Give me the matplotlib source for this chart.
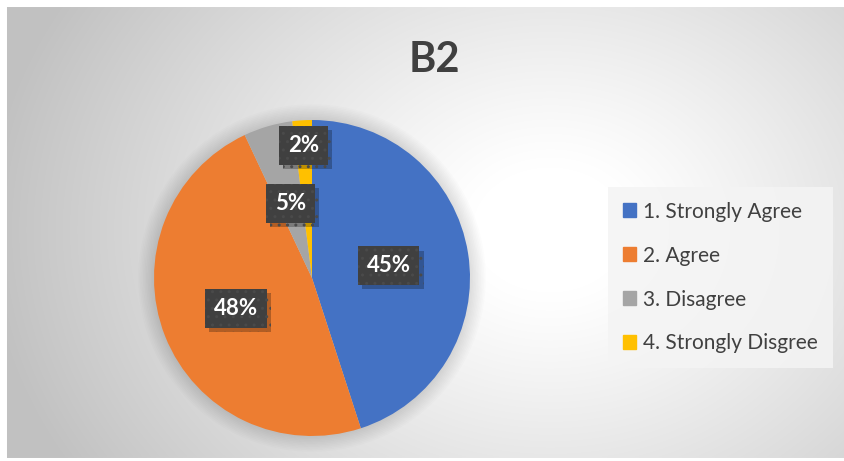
import numpy as np
import matplotlib
matplotlib.use("Agg")
import matplotlib.pyplot as plt
import matplotlib.patheffects as pe
from matplotlib.patches import Circle

labels = ["1. Strongly Agree", "2. Agree", "3. Disagree", "4. Strongly Disgree"]
values = [45, 48, 5, 2]
pct_text = ["45%", "48%", "5%", "2%"]
colors = ["#4472c4", "#ed7d31", "#a5a5a5", "#ffc000"]
label_r = [0.49, 0.52, 0.49, 0.84]

plt.rcParams["font.family"] = ["Lato", "DejaVu Sans"]

W, H = 844, 461
fig = plt.figure(figsize=(W / 100, H / 100), dpi=100)

# background: white page, grey radial gradient panel
bg = fig.add_axes([0, 0, 1, 1])
bg.set_xlim(0, W)
bg.set_ylim(H, 0)
bg.axis("off")
yy, xx = np.mgrid[0:H, 0:W]
d = np.sqrt(((xx - 550) / 520.0) ** 2 + ((yy - 230) / 420.0) ** 2)
g = np.clip(1.0 - 0.26 * np.clip(d - 0.15, 0, None) ** 1.1, 0.76, 1.0)
img = np.dstack([g, g, g])
img[:8, :, :] = 1.0
img[:, :7, :] = 1.0
img[458:, :, :] = 1.0
bg.imshow(img, extent=(0, W, H, 0), aspect="auto", interpolation="bilinear")

fig.text(434 / W, 1 - 60 / H, "B2", ha="center", va="center",
         fontsize=30, fontweight="bold", color="#404040")

# pie
cx, cy, r = 312, 278, 158
ax = fig.add_axes([(cx - r * 1.1) / W, (H - cy - r * 1.1) / H, 2.2 * r / W, 2.2 * r / H])

for k in range(10):
    ax.add_patch(Circle((0, 0), 1.0 + 0.01 * (k + 1), color="black",
                        alpha=0.012, lw=0, zorder=0))

wedges, _ = ax.pie(values, colors=colors, startangle=90, counterclock=False,
                   radius=1.0, wedgeprops=dict(linewidth=0))
ax.set_xlim(-1.1, 1.1)
ax.set_ylim(-1.1, 1.1)
ax.set_aspect("equal")
ax.axis("off")

total = float(sum(values))
start = 90.0
for v, t, lr in zip(values, pct_text, label_r):
    mid = start - 360.0 * v / total / 2
    start -= 360.0 * v / total
    x = lr * np.cos(np.radians(mid))
    y = lr * np.sin(np.radians(mid))
    txt = ax.text(x, y, t, ha="center", va="center", fontsize=16, fontweight="bold",
                  color="white",
                  bbox=dict(boxstyle="square,pad=0.4", fc="#404040", ec="#4a4a4a",
                            lw=0, hatch=".."),
                  zorder=5)
    txt.get_bbox_patch().set_path_effects(
        [pe.SimplePatchShadow(offset=(3, -3), shadow_rgbFace="black", alpha=0.25),
         pe.Normal()])

handles = [plt.Rectangle((0, 0), 1, 1, color=c) for c in colors]
leg = fig.legend(handles, labels, loc="upper left",
                 bbox_to_anchor=(608 / W, 1 - 187 / H), borderaxespad=0,
                 fontsize=15, frameon=True, fancybox=False,
                 handlelength=0.65, handleheight=0.65, handletextpad=0.35,
                 labelspacing=1.15, borderpad=0.7, labelcolor="#404040")
leg.get_frame().set_facecolor("#f4f4f4")
leg.get_frame().set_edgecolor("none")
leg.get_frame().set_alpha(0.85)

fig.savefig("out.png", dpi=100)
